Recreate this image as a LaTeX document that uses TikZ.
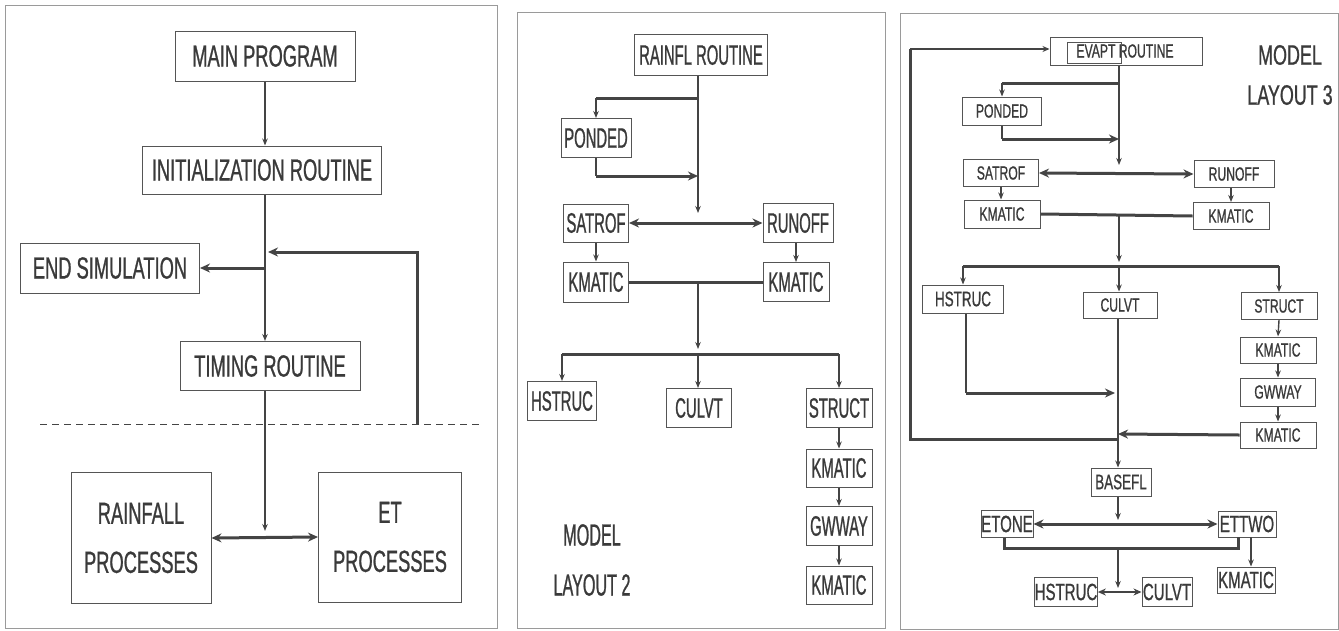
\documentclass[tikz,border=0pt]{standalone}
\usepackage{fontspec}
\setmainfont{Liberation Sans}
\newfontfamily\fa{Liberation Sans}[FakeStretch=0.6,FakeBold=0.8]
\newfontfamily\fb{Liberation Sans}[FakeStretch=0.53,FakeBold=0.8]
\newfontfamily\fc{Liberation Sans}[FakeStretch=0.64,FakeBold=0.8]
\usetikzlibrary{arrows.meta}
\definecolor{ink}{HTML}{444444}
\definecolor{boxc}{HTML}{555555}
\definecolor{framec}{HTML}{9A9A9A}
\definecolor{txt}{HTML}{3A3A3A}
\tikzset{
  bx/.style={draw=boxc, line width=1pt, inner sep=0pt, text=txt},
  pa/.style={bx, font=\fa\fontsize{30.5}{49}\selectfont},
  pb/.style={bx, font=\fb\fontsize{28}{34}\selectfont},
  pc/.style={bx, font=\fc\fontsize{19}{23}\selectfont},
  pcl/.style={bx, font=\fc\fontsize{23.5}{28}\selectfont},
  lbl/.style={inner sep=0pt, text=txt},
  ar/.style={draw=ink, line width=1.4pt, -{Stealth[length=7pt,width=5.5pt]}},
  thn/.style={draw=ink, line width=1.4pt},
  thk/.style={draw=ink, line width=3pt},
  tar/.style={draw=ink, line width=3pt, -{Stealth[length=10pt,width=9pt]}},
  tdar/.style={draw=ink, line width=3pt, {Stealth[length=10pt,width=9pt]}-{Stealth[length=10pt,width=9pt]}},
  mdar/.style={draw=ink, line width=2pt, {Stealth[length=8pt,width=7pt]}-{Stealth[length=8pt,width=7pt]}},
  frame/.style={draw=framec, line width=1pt},
}
\begin{document}
\begin{tikzpicture}[x=1pt,y=-1pt]
\useasboundingbox[fill=white] (0,0) rectangle (1339,630);
% panel frames
\draw[frame] (5,5) rectangle (497,628);
\draw[frame] (517,12) rectangle (885,628);
\draw[frame] (900,13) rectangle (1338,629);

%%%%%%%% PANEL 1
\node[pa, minimum width=180pt, minimum height=50pt] (main) at (265,56) {MAIN PROGRAM};
\node[pa, minimum width=239pt, minimum height=48pt] (init) at (262,170) {INITIALIZATION ROUTINE};
\node[pa, minimum width=179pt, minimum height=50pt] (endsim) at (110,268) {END SIMULATION};
\node[pa, minimum width=180pt, minimum height=49pt] (timing) at (270,366) {TIMING ROUTINE};
\node[pa, align=center, minimum width=140pt, minimum height=131pt] (rain) at (141,538) {RAINFALL\\PROCESSES};
\node[pa, align=center, minimum width=143pt, minimum height=130pt] (et) at (390,537) {ET\\PROCESSES};
\coordinate (s1) at (265,268);
\coordinate (lp1) at (417,424);
\coordinate (lp2) at (268,252);
\coordinate (d1) at (40,424);
\coordinate (d2) at (482,424);
\coordinate (j1) at (265,531);
\draw[ar] (main.south) -- (init.north -| main.south);
\draw[thn] (init.south -| s1) -- (s1);
\draw[ar] (s1) -- (timing.north -| s1);
\draw[tar] (s1) -- (endsim.east);
\draw[tar] (lp1) |- (lp2);
\draw[ink, line width=1pt, dash pattern=on 7pt off 5pt] (d1) -- (d2);
\draw[ar] (timing.south -| s1) -- (j1);
\draw[tdar] (rain.east) -- (et.west);

%%%%%%%% PANEL 2
\node[pb, minimum width=133pt, minimum height=41pt] (rainfl) at (701,55) {RAINFL ROUTINE};
\node[pb, minimum width=70pt, minimum height=39pt] (ponded2) at (596,138) {PONDED};
\node[pb, minimum width=65pt, minimum height=38pt] (satrof2) at (596,223) {SATROF};
\node[pb, minimum width=70pt, minimum height=39pt] (runoff2) at (798,223) {RUNOFF};
\node[pb, minimum width=65pt, minimum height=40pt] (kma2) at (596,282) {KMATIC};
\node[pb, minimum width=66pt, minimum height=39pt] (kmb2) at (796,282) {KMATIC};
\node[pb, minimum width=69pt, minimum height=39pt] (hstruc2) at (562,401) {HSTRUC};
\node[pb, minimum width=65pt, minimum height=39pt] (culvt2) at (699,408) {CULVT};
\node[pb, minimum width=66pt, minimum height=39pt] (struct2) at (839,408) {STRUCT};
\node[pb, minimum width=66pt, minimum height=38pt] (kmc2) at (839,468) {KMATIC};
\node[pb, minimum width=66pt, minimum height=39pt] (gw2) at (839,526) {GWWAY};
\node[pb, minimum width=66pt, minimum height=38pt] (kmd2) at (839,585) {KMATIC};
\node[lbl, font=\fb\fontsize{30.5}{36}\selectfont] (model2) at (592,535) {MODEL};
\node[lbl, font=\fb\fontsize{30.5}{36}\selectfont] (layout2) at (592,585) {LAYOUT 2};
\coordinate (sp2) at (698,98);
\coordinate (pi2) at (596,98);
\coordinate (po2) at (596,176);
\coordinate (pe2) at (698,176);
\coordinate (t2) at (698,213);
\coordinate (k2) at (698,282);
\coordinate (h2) at (698,354);
\coordinate (hl2) at (562,354);
\coordinate (hr2) at (839,354);
\coordinate (ha2) at (698,349);
\draw[ar] (rainfl.south -| sp2) -- (t2);
\draw[thk] (sp2) -- (pi2);
\draw[ar] (pi2) -- (ponded2.north);
\draw[thn] (ponded2.south) -- (po2);
\draw[tar] (po2) -- (pe2);
\draw[tdar] (satrof2.east) -- (runoff2.west);
\draw[ar] (satrof2.south) -- (kma2.north);
\draw[ar] (runoff2.south -| kmb2.north) -- (kmb2.north);
\draw[thk] (kma2.east) -- (kmb2.west);
\draw[ar] (k2) -- (ha2);
\draw[thk] (hl2) -- (hr2);
\draw[ar] (hl2) -- (hstruc2.north);
\draw[ar] (h2) -- (culvt2.north -| h2);
\draw[ar] (hr2) -- (struct2.north);
\draw[ar] (struct2.south) -- (kmc2.north);
\draw[ar] (kmc2.south) -- (gw2.north);
\draw[ar] (gw2.south) -- (kmd2.north);

%%%%%%%% PANEL 3
\node[pc, minimum width=152pt, minimum height=28pt] (evapt) at (1126,51) {\hspace*{-2pt}EVAPT ROUTINE};
\node[draw=boxc, line width=1pt, inner sep=0pt, minimum width=54pt, minimum height=21pt] (evin) at (1094,52.5) {};
\node[pc, minimum width=79pt, minimum height=28pt] (ponded3) at (1002,111) {PONDED};
\node[pc, minimum width=75pt, minimum height=27pt] (satrof3) at (1001,173) {SATROF};
\node[pc, minimum width=80pt, minimum height=27pt] (runoff3) at (1234,174) {RUNOFF};
\node[pc, minimum width=76pt, minimum height=28pt] (kma3) at (1002,214) {KMATIC};
\node[pc, minimum width=76pt, minimum height=27pt] (kmb3) at (1231,216) {KMATIC};
\node[pc, font=\fc\fontsize{21}{25}\selectfont, minimum width=81pt, minimum height=28pt] (hstruc3) at (963,299) {HSTRUC};
\node[pc, minimum width=74pt, minimum height=26pt] (culvt3) at (1120,305) {CULVT};
\node[pc, minimum width=76pt, minimum height=27pt] (struct3) at (1279,306) {STRUCT};
\node[pc, minimum width=76pt, minimum height=26pt] (kmc3) at (1278,350) {KMATIC};
\node[pc, minimum width=75pt, minimum height=28pt] (gw3) at (1278,392) {GWWAY};
\node[pc, minimum width=76pt, minimum height=26pt] (kmd3) at (1278,435) {KMATIC};
\node[pc, font=\fc\fontsize{21}{25}\selectfont, minimum width=60pt, minimum height=28pt] (basefl) at (1121,482) {BASEFL};
\node[pcl, minimum width=52pt, minimum height=27pt] (etone) at (1007,524) {ETONE};
\node[pcl, minimum width=58pt, minimum height=26pt] (ettwo) at (1247,524) {ETTWO};
\node[pcl, minimum width=58pt, minimum height=26pt] (kme3) at (1246,580) {KMATIC};
\node[pcl, minimum width=61pt, minimum height=29pt] (hstruc3b) at (1066,592) {HSTRUC};
\node[pcl, minimum width=50pt, minimum height=29pt] (culvt3b) at (1167,592) {CULVT};
\node[lbl, font=\fc\fontsize{28}{34}\selectfont] (model3) at (1290,55) {MODEL};
\node[lbl, font=\fc\fontsize{28}{34}\selectfont] (layout3) at (1290,95) {LAYOUT 3};
\coordinate (sp3) at (1119,83);
\coordinate (pi3) at (1002,83);
\coordinate (po3) at (1002,139);
\coordinate (pe3) at (1119,139);
\coordinate (t3) at (1119,165);
\coordinate (k3) at (1119,215);
\coordinate (ha3) at (1119,262);
\coordinate (h3) at (1119,266);
\coordinate (hl3) at (963,266);
\coordinate (hr3) at (1279,266);
\coordinate (hs3) at (966,393);
\coordinate (hse3) at (1115,393);
\coordinate (m3) at (1118,434);
\coordinate (lpa) at (1118,439);
\coordinate (lpb) at (910,439);
\coordinate (lpc) at (910,49);
\coordinate (bt3) at (1118,520);
\coordinate (bra) at (1004,548);
\coordinate (brb) at (1238,548);
\coordinate (brc) at (1238,537);
\coordinate (brm) at (1118,550);
\coordinate (bre) at (1118,588);
\coordinate (ekm) at (1251,537);
\draw[ar] (evapt.south -| sp3) -- (t3);
\draw[thk] (sp3) -- (pi3);
\draw[ar] (pi3) -- (ponded3.north);
\draw[thn] (ponded3.south) -- (po3);
\draw[tar] (po3) -- (pe3);
\draw[tdar] (satrof3.east) -- (runoff3.west);
\draw[ar] (satrof3.south) -- (kma3.north -| satrof3.south);
\draw[ar] (runoff3.south -| kmb3.north) -- (kmb3.north);
\draw[thk] (kma3.east) -- (kmb3.west);
\draw[ar] (k3) -- (ha3);
\draw[thk] (hl3) -- (hr3);
\draw[ar] (hl3) -- (hstruc3.north);
\draw[ar] (h3) -- (culvt3.north -| h3);
\draw[ar] (hr3) -- (struct3.north);
\draw[ar] (struct3.south) -- (kmc3.north);
\draw[ar] (kmc3.south) -- (gw3.north);
\draw[ar] (gw3.south) -- (kmd3.north);
\draw[thn] (hstruc3.south -| hs3) -- (hs3);
\draw[tar] (hs3) -- (hse3);
\draw[tar] (kmd3.west) -- (m3);
\draw[ar] (culvt3.south -| m3) -- (basefl.north -| m3);
\draw[thk] (lpa) -- (lpb) -- (lpc);
\draw[draw=ink, line width=2pt, -{Stealth[length=7pt,width=6pt]}] (lpc) -- (evapt.west |- lpc);
\draw[ar] (basefl.south -| bt3) -- (bt3);
\draw[tdar] (etone.east) -- (ettwo.west);
\draw[thk] (etone.south -| bra) -- (bra) -- (brb) -- (brc);
\draw[ar] (ekm) -- (kme3.north -| ekm);
\draw[ar] (brm) -- (bre);
\draw[mdar] (hstruc3b.east) -- (culvt3b.west);
\end{tikzpicture}
\end{document}
